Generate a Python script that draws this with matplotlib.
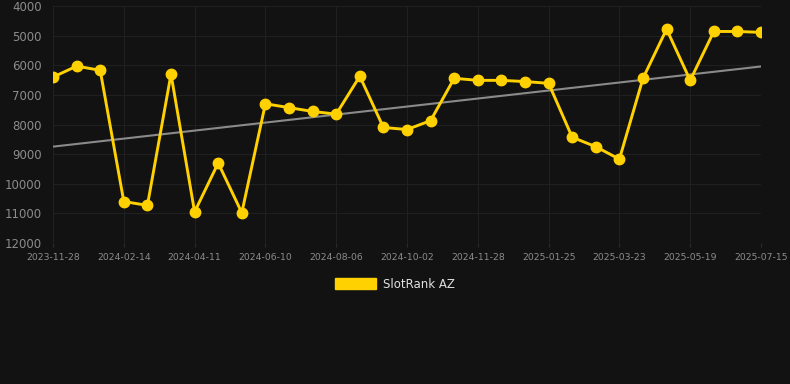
import matplotlib.pyplot as plt
import matplotlib.patches as mpatches
import numpy as np

# rank values, one per snapshot (lower is better, axis inverted)
ranks = [6400, 6030, 6170, 10600, 10730, 6300, 10950, 9300, 10980, 7300,
         7430, 7560, 7650, 6370, 8100, 8170, 7870, 6440, 6510, 6510,
         6550, 6610, 8430, 8750, 9170, 6440, 4780, 6510, 4860, 4860, 4890]
tick_labels = ["2023-11-28", "2024-02-14", "2024-04-11", "2024-06-10", "2024-08-06",
               "2024-10-02", "2024-11-28", "2025-01-25", "2025-03-23", "2025-05-19",
               "2025-07-15"]
y_ticks = [4000, 5000, 6000, 7000, 8000, 9000, 10000, 11000, 12000]

bg = "#121212"
yellow = "#FFD100"

fig = plt.figure(figsize=(7.9, 3.84), dpi=100, facecolor=bg)
ax = fig.add_axes([53 / 790, 1 - 243 / 384, (761 - 53) / 790, (243 - 6) / 384])
ax.set_facecolor(bg)

x = np.arange(len(ranks))
slope, icpt = np.polyfit(x, ranks, 1)
ax.plot(x, slope * x + icpt, color="#8a8a8a", lw=1.5, zorder=2)
ax.plot(x, ranks, color=yellow, lw=2.1, marker="o", ms=7.5, zorder=3)

ax.set_xlim(0, len(ranks) - 1)
ax.set_ylim(12000, 4000)
ax.set_yticks(y_ticks)
ax.set_yticklabels([str(v) for v in y_ticks])
ax.set_xticks(np.arange(0, len(ranks), 3))
ax.set_xticklabels(tick_labels)
ax.tick_params(axis="y", colors="#8c8c8c", labelsize=8.5, length=0, pad=8)
ax.tick_params(axis="x", colors="#8c8c8c", labelsize=6.7, length=3, pad=4)
ax.tick_params(axis="x", color="#2a2a2a")
ax.grid(True, color="#202020", lw=0.8)
for s in ax.spines.values():
    s.set_visible(False)

handle = mpatches.Patch(color=yellow, label="SlotRank AZ")
fig.legend(handles=[handle], loc="center", bbox_to_anchor=(0.5, 1 - 284 / 384),
           frameon=False, fontsize=8.5, labelcolor="#e0e0e0",
           handlelength=3.4, handleheight=1.0, handletextpad=0.6)

fig.savefig("out.png", dpi=100, facecolor=bg)
